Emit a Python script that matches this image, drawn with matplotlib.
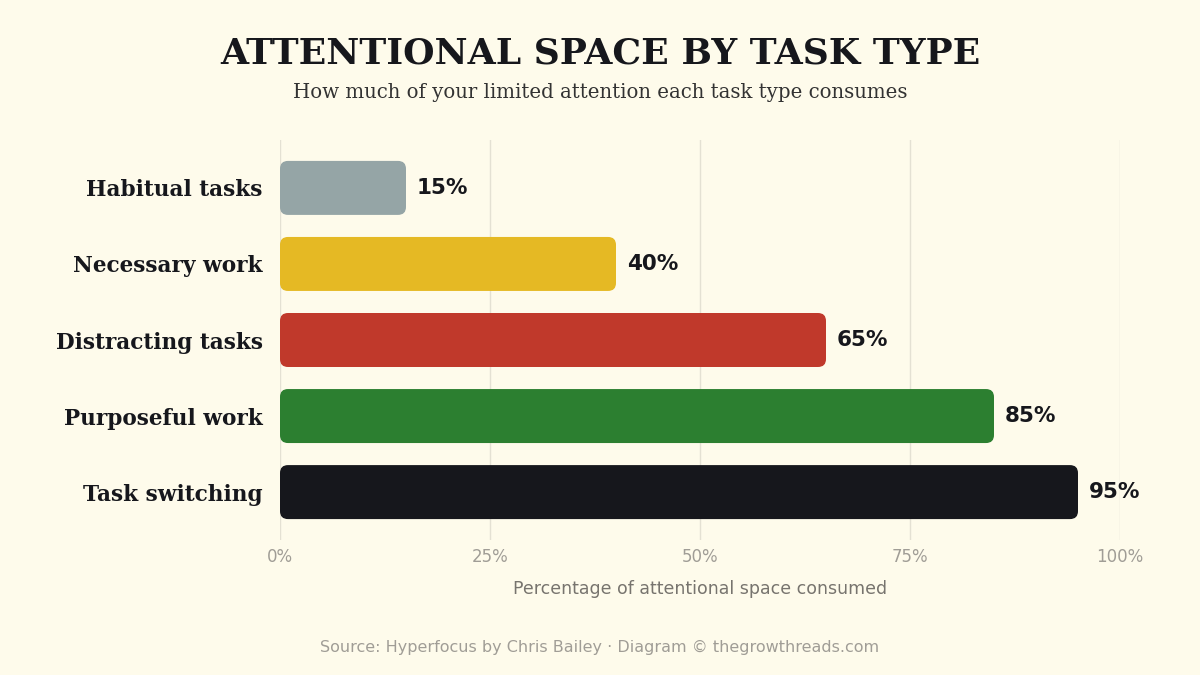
import matplotlib.pyplot as plt
from matplotlib.patches import FancyBboxPatch

# datos
categorias = ["Habitual tasks", "Necessary work", "Distracting tasks", "Purposeful work", "Task switching"]
valores = [15, 40, 65, 85, 95]
colores = ["#95A5A6", "#E5B924", "#C0392B", "#2C7F30", "#16171C"]
ticks = [0, 25, 50, 75, 100]
tick_labels = ["0%", "25%", "50%", "75%", "100%"]

fondo = "#FEFBEB"

fig = plt.figure(figsize=(12, 6.75), dpi=100, facecolor=fondo)
ax = fig.add_axes([280 / 1200, 1 - 540 / 675, 840 / 1200, 400 / 675])
ax.set_facecolor(fondo)

ax.set_xlim(0, 100)
ax.set_ylim(len(categorias) - 0.37, -0.63)

alto = 0.71
for i, (v, c) in enumerate(zip(valores, colores)):
    caja = FancyBboxPatch((0, i - alto / 2), v, alto,
                          boxstyle="round,pad=0,rounding_size=0.95",
                          mutation_aspect=0.11, facecolor=c, edgecolor="none", zorder=3)
    ax.add_patch(caja)
    ax.text(v + 1.3, i, f"{v}%", va="center", ha="left", fontsize=15.5,
            fontweight="bold", color="#16171C", family="DejaVu Sans", zorder=4)

ax.set_yticks(range(len(categorias)))
ax.set_yticklabels(categorias, family="DejaVu Serif", fontweight="bold", fontsize=15.6, color="#16171C")
ax.set_xticks(ticks)
ax.set_xticklabels(tick_labels, fontsize=12, color="#A09D96")
ax.tick_params(axis="both", length=0)
ax.tick_params(axis="y", pad=12.5)
ax.tick_params(axis="x", pad=5.5)

ax.grid(axis="x", color="#E4E1D3", linewidth=1, zorder=0)
ax.set_axisbelow(True)
for s in ax.spines.values():
    s.set_visible(False)

ax.set_xlabel("Percentage of attentional space consumed", fontsize=12.5, color="#77746E", labelpad=10)

fig.text(0.5, 1 - 53 / 675, "ATTENTIONAL SPACE BY TASK TYPE", ha="center", va="center",
         family="DejaVu Serif", fontweight="bold", fontsize=26, color="#16171C")
fig.text(0.5, 1 - 92 / 675, "How much of your limited attention each task type consumes", ha="center",
         va="center", family="DejaVu Serif", fontsize=14.2, color="#333333")
fig.text(0.5, 1 - 647 / 675, "Source: Hyperfocus by Chris Bailey · Diagram © thegrowthreads.com",
         ha="center", va="center", fontsize=11.5, color="#A09D96")

plt.savefig("out.png", dpi=100, facecolor=fondo)
